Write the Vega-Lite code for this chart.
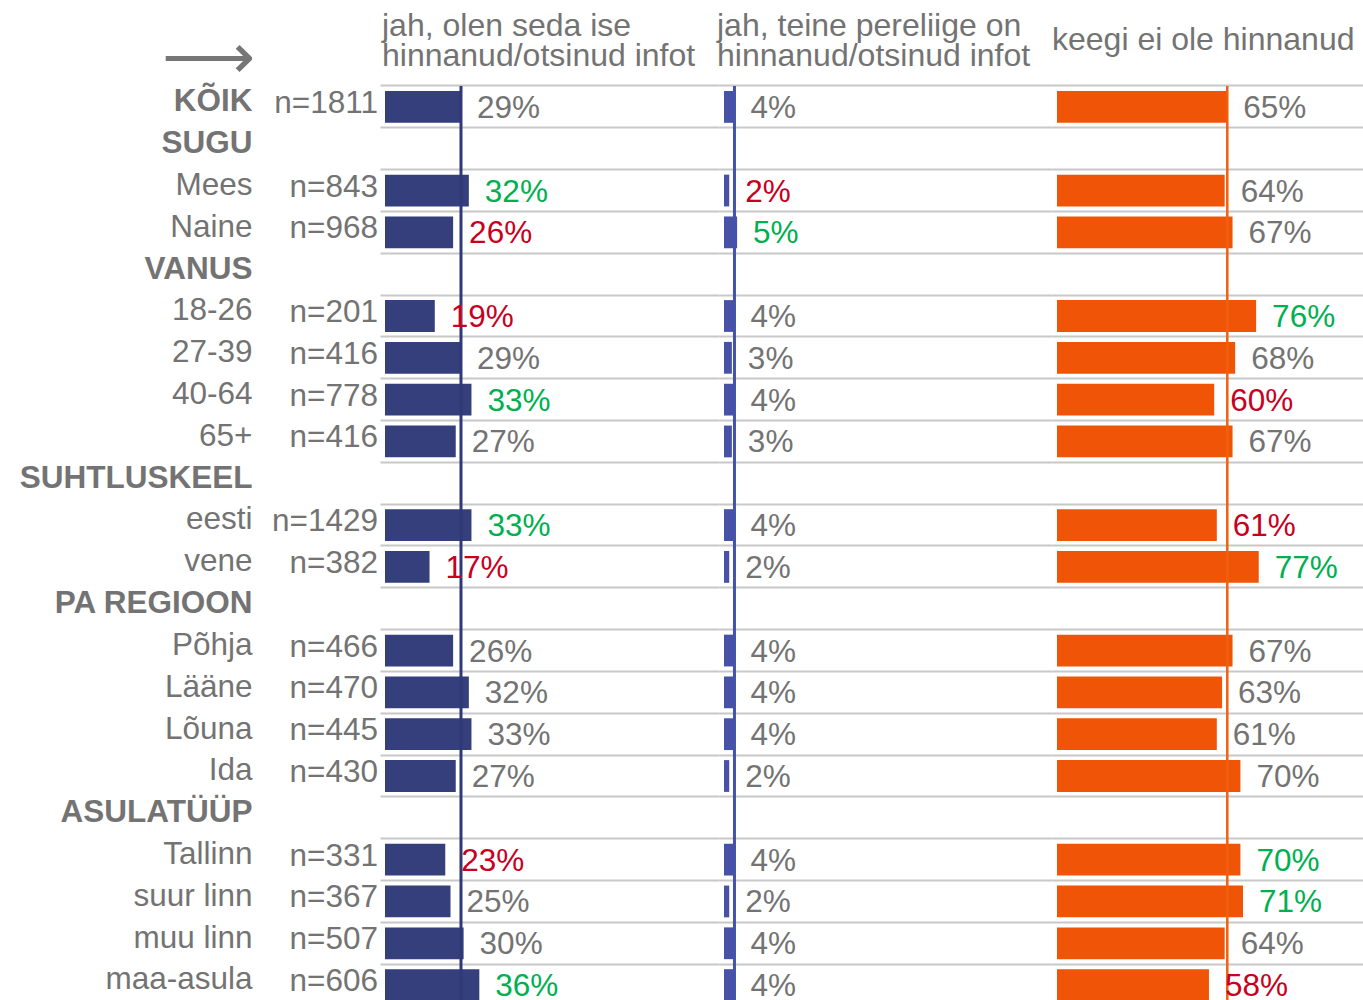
{
  "$schema": "https://vega.github.io/schema/vega-lite/v6.json",
  "autosize": {"type": "pad"},
  "padding": {"left": 19, "top": 9, "right": 0, "bottom": 0},
  "background": "white",
  "spacing": 0,
  "bounds": "flush",
  "config": {"view": {"stroke": null}, "font": "Liberation Sans"},
  "datasets": {
    "rows": [
      {"g": "KÕIK", "n": "n=1811", "a": 0.29, "as": "o", "b": 0.04, "bs": "o", "c": 0.65, "cs": "o"},
      {"g": "SUGU"},
      {"g": "Mees", "n": "n=843", "a": 0.32, "as": "h", "b": 0.02, "bs": "l", "c": 0.64, "cs": "o"},
      {"g": "Naine", "n": "n=968", "a": 0.26, "as": "l", "b": 0.05, "bs": "h", "c": 0.67, "cs": "o"},
      {"g": "VANUS"},
      {"g": "18-26", "n": "n=201", "a": 0.19, "as": "l", "b": 0.04, "bs": "o", "c": 0.76, "cs": "h"},
      {"g": "27-39", "n": "n=416", "a": 0.29, "as": "o", "b": 0.03, "bs": "o", "c": 0.68, "cs": "o"},
      {"g": "40-64", "n": "n=778", "a": 0.33, "as": "h", "b": 0.04, "bs": "o", "c": 0.60, "cs": "l"},
      {"g": "65+", "n": "n=416", "a": 0.27, "as": "o", "b": 0.03, "bs": "o", "c": 0.67, "cs": "o"},
      {"g": "SUHTLUSKEEL"},
      {"g": "eesti", "n": "n=1429", "a": 0.33, "as": "h", "b": 0.04, "bs": "o", "c": 0.61, "cs": "l"},
      {"g": "vene", "n": "n=382", "a": 0.17, "as": "l", "b": 0.02, "bs": "o", "c": 0.77, "cs": "h"},
      {"g": "PA REGIOON"},
      {"g": "Põhja", "n": "n=466", "a": 0.26, "as": "o", "b": 0.04, "bs": "o", "c": 0.67, "cs": "o"},
      {"g": "Lääne", "n": "n=470", "a": 0.32, "as": "o", "b": 0.04, "bs": "o", "c": 0.63, "cs": "o"},
      {"g": "Lõuna", "n": "n=445", "a": 0.33, "as": "o", "b": 0.04, "bs": "o", "c": 0.61, "cs": "o"},
      {"g": "Ida", "n": "n=430", "a": 0.27, "as": "o", "b": 0.02, "bs": "o", "c": 0.70, "cs": "o"},
      {"g": "ASULATÜÜP"},
      {"g": "Tallinn", "n": "n=331", "a": 0.23, "as": "l", "b": 0.04, "bs": "o", "c": 0.70, "cs": "h"},
      {"g": "suur linn", "n": "n=367", "a": 0.25, "as": "o", "b": 0.02, "bs": "o", "c": 0.71, "cs": "h"},
      {"g": "muu linn", "n": "n=507", "a": 0.30, "as": "o", "b": 0.04, "bs": "o", "c": 0.64, "cs": "o"},
      {"g": "maa-asula", "n": "n=606", "a": 0.36, "as": "h", "b": 0.04, "bs": "o", "c": 0.58, "cs": "l"}
    ]
  },
  "hconcat": [
    {
      "width": 339,
      "height": 920,
      "data": {"name": "rows"},
      "title": {"text": ["jah, olen seda ise", "hinnanud/otsinud infot"], "anchor": "start", "frame": "group", "fontSize": 32, "lineHeight": 30, "color": "#737373", "fontWeight": "normal", "offset": -46.5, "dx": 2},
      "layer": [
        {
          "mark": {"type": "bar", "color": "#353F7B"},
          "encoding": {
            "y": {"field": "g", "type": "nominal", "sort": null,
              "scale": {"domain": ["KÕIK","SUGU","Mees","Naine","VANUS","18-26","27-39","40-64","65+","SUHTLUSKEEL","eesti","vene","PA REGIOON","Põhja","Lääne","Lõuna","Ida","ASULATÜÜP","Tallinn","suur linn","muu linn","maa-asula"], "paddingInner": 0.24, "paddingOuter": 0.12},
              "axis": {"title": "⟶", "titleAngle": 0, "titleAlign": "right", "titleBaseline": "middle", "titleX": -125.5, "titleY": -28, "titleFontSize": 65, "titleColor": "#767676", "titleFont": "DejaVu Sans", "titleFontWeight": 200,
                "labelPadding": 128, "ticks": false, "domain": false, "grid": true, "gridColor": "#C8C8C8", "gridWidth": 2, "bandPosition": -0.158, "labelOffset": -4.6,
                "labelFontSize": 31.5, "labelColor": "#737373", "labelLimit": 0,
                "labelFontWeight": {"condition": {"test": "test(/^[A-ZÕÄÖÜ ]+$/, datum.value)", "value": "bold"}, "value": "normal"}}},
            "x": {"field": "a", "type": "quantitative", "scale": {"domain": [-0.01908, 1.27481], "nice": false, "zero": false}, "axis": null},
            "x2": {"datum": 0}
          }
        },
        {
          "transform": [{"filter": "datum.g == 'KÕIK'"}],
          "mark": {"type": "rule", "color": "#2E3A78", "strokeWidth": 3},
          "encoding": {"x": {"field": "a", "type": "quantitative"}}
        },
        {
          "mark": {"type": "text", "align": "left", "baseline": "middle", "dx": 16, "dy": 2, "fontSize": 31.5},
          "encoding": {
            "y": {"field": "g", "type": "nominal", "sort": null},
            "x": {"field": "a", "type": "quantitative"},
            "text": {"field": "a", "type": "quantitative", "format": ".0%"},
            "color": {"field": "as", "type": "nominal", "scale": {"domain": ["o","h","l"], "range": ["#737373","#00B050","#C8001E"]}, "legend": null}
          }
        },
        {
          "transform": [{"filter": "isValid(datum.n)"}],
          "mark": {"type": "text", "align": "right", "baseline": "middle", "dx": -7, "dy": -3, "fontSize": 31.5, "color": "#737373"},
          "encoding": {
            "y": {"field": "g", "type": "nominal", "sort": null},
            "x": {"datum": 0, "type": "quantitative"},
            "text": {"field": "n", "type": "nominal"}
          }
        }
      ]
    },
    {
      "width": 333,
      "height": 920,
      "data": {"name": "rows"},
      "title": {"text": ["jah, teine pereliige on", "hinnanud/otsinud infot"], "anchor": "start", "frame": "group", "fontSize": 32, "lineHeight": 30, "color": "#737373", "fontWeight": "normal", "offset": 12, "dx": -2},
      "layer": [
        {
          "mark": {"type": "bar", "color": "#4552A8"},
          "encoding": {
            "y": {"field": "g", "type": "nominal", "sort": null,
              "scale": {"domain": ["KÕIK","SUGU","Mees","Naine","VANUS","18-26","27-39","40-64","65+","SUHTLUSKEEL","eesti","vene","PA REGIOON","Põhja","Lääne","Lõuna","Ida","ASULATÜÜP","Tallinn","suur linn","muu linn","maa-asula"], "paddingInner": 0.24, "paddingOuter": 0.12},
              "axis": {"title": null, "labels": false, "ticks": false, "domain": false, "grid": true, "gridColor": "#C8C8C8", "gridWidth": 2, "bandPosition": -0.158}},
            "x": {"field": "b", "type": "quantitative", "scale": {"domain": [-0.01908, 1.25191], "nice": false, "zero": false}, "axis": null},
            "x2": {"datum": 0}
          }
        },
        {
          "transform": [{"filter": "datum.g == 'KÕIK'"}],
          "mark": {"type": "rule", "color": "#4452AA", "strokeWidth": 3},
          "encoding": {"x": {"field": "b", "type": "quantitative"}}
        },
        {
          "mark": {"type": "text", "align": "left", "baseline": "middle", "dx": 16, "dy": 2, "fontSize": 31.5},
          "encoding": {
            "y": {"field": "g", "type": "nominal", "sort": null},
            "x": {"field": "b", "type": "quantitative"},
            "text": {"field": "b", "type": "quantitative", "format": ".0%"},
            "color": {"field": "bs", "type": "nominal", "scale": {"domain": ["o","h","l"], "range": ["#737373","#00B050","#C8001E"]}, "legend": null}
          }
        }
      ]
    },
    {
      "width": 311,
      "height": 920,
      "data": {"name": "rows"},
      "title": {"text": "keegi ei ole hinnanud", "anchor": "start", "frame": "group", "fontSize": 32, "color": "#737373", "fontWeight": "normal", "offset": 28, "dx": 0},
      "layer": [
        {
          "mark": {"type": "bar", "color": "#F05507"},
          "encoding": {
            "y": {"field": "g", "type": "nominal", "sort": null,
              "scale": {"domain": ["KÕIK","SUGU","Mees","Naine","VANUS","18-26","27-39","40-64","65+","SUHTLUSKEEL","eesti","vene","PA REGIOON","Põhja","Lääne","Lõuna","Ida","ASULATÜÜP","Tallinn","suur linn","muu linn","maa-asula"], "paddingInner": 0.24, "paddingOuter": 0.12},
              "axis": {"title": null, "labels": false, "ticks": false, "domain": false, "grid": true, "gridColor": "#C8C8C8", "gridWidth": 2, "bandPosition": -0.158}},
            "x": {"field": "c", "type": "quantitative", "scale": {"domain": [-0.01908, 1.16794], "nice": false, "zero": false}, "axis": null},
            "x2": {"datum": 0}
          }
        },
        {
          "transform": [{"filter": "datum.g == 'KÕIK'"}],
          "mark": {"type": "rule", "color": "#F0600F", "strokeWidth": 2.5},
          "encoding": {"x": {"field": "c", "type": "quantitative"}}
        },
        {
          "mark": {"type": "text", "align": "left", "baseline": "middle", "dx": 16, "dy": 2, "fontSize": 31.5},
          "encoding": {
            "y": {"field": "g", "type": "nominal", "sort": null},
            "x": {"field": "c", "type": "quantitative"},
            "text": {"field": "c", "type": "quantitative", "format": ".0%"},
            "color": {"field": "cs", "type": "nominal", "scale": {"domain": ["o","h","l"], "range": ["#737373","#00B050","#C8001E"]}, "legend": null}
          }
        }
      ]
    }
  ]
}
